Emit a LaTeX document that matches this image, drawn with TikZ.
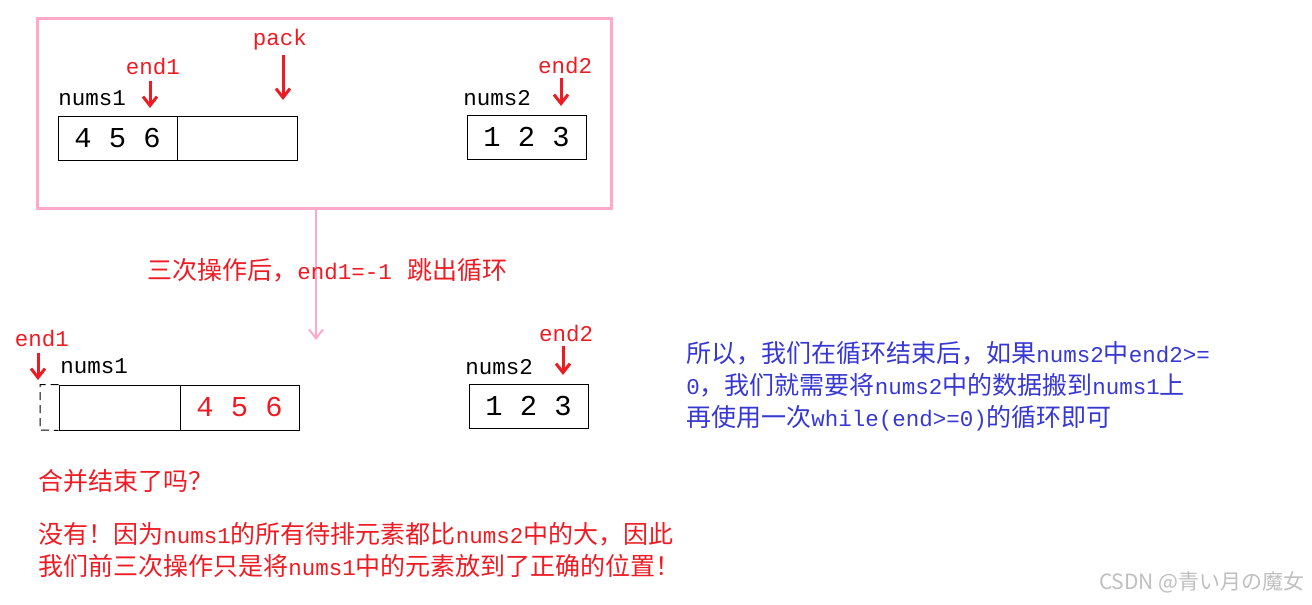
\documentclass[tikz,border=0pt]{standalone}
\usepackage{fontspec}
\usepackage{xcolor}
\setmainfont{Liberation Mono}[Scale=0.9]
\newfontfamily\cjk{Noto Sans CJK SC}
\usetikzlibrary{arrows.meta}
\definecolor{markred}{RGB}{237,28,36}
\definecolor{linkpink}{RGB}{255,168,201}
\definecolor{noteblue}{RGB}{55,55,210}
\tikzset{
  every node/.style={inner sep=0pt,font=\fontsize{12.5}{16}\selectfont},
  cell/.style={draw,line width=0.5pt,minimum height=22pt,font=\fontsize{16}{20}\selectfont},
  pointer/.style={markred,line width=1.5pt,->},
  redtext/.style={text=markred},
}
\begin{document}
\begin{tikzpicture}[x=0.5pt,y=-0.5pt,>={Straight Barb[length=4.5pt,width=7pt]}]
  \useasboundingbox (0,0) rectangle (1312,605);
  \node[draw=linkpink,line width=1.5pt,minimum width=287pt,minimum height=95pt] (before) at (324,113) {};
  \node[cell,minimum width=59.5pt] (a0) at (117.5,138.5) {4 5 6};
  \node[cell,minimum width=60pt] (a1) at (237,138.5) {};
  \node[cell,minimum width=59.5pt] (c0) at (526.5,137) {1 2 3};
  \node[anchor=west] (n1top) at (58,98) {nums1};
  \node[anchor=west] (n2top) at (463,98) {nums2};
  \node[redtext] (e1top) at (153,66) {end1};
  \node[redtext] (pack) at (280,40) {pack};
  \node[redtext] (e2top) at (565,65) {end2};
  \coordinate (p1) at (150,108);
  \coordinate (p2) at (283,100);
  \coordinate (p3) at (561,106);
  \draw[pointer] (e1top.south -| p1) ++(0,6) -- (p1);
  \draw[pointer] (pack.south -| p2) ++(0,4) -- (p2);
  \draw[pointer] (e2top.south -| p3) ++(0,4) -- (p3);

  \coordinate (down) at (316,340);
  \draw[linkpink,line width=1pt,->] (before.south -| down) -- (down);
  \node[redtext,anchor=west] (step) at (147,270) {{\cjk 三次操作后，}end1=-1\hspace{8pt}{\cjk 跳出循环}};

  \node[cell,minimum width=60.5pt,minimum height=22.5pt] (b0) at (119.5,407.5) {};
  \node[cell,minimum width=59.5pt,minimum height=22.5pt,text=markred] (b1) at (239.5,407.5) {4 5 6};
  \node[cell,minimum width=59.5pt] (d0) at (528.5,406) {1 2 3};
  \draw[dash pattern=on 4pt off 2.5pt,line width=0.5pt] (b0.north west) -| (40,430) -- (b0.south west);
  \node[anchor=west] (n1bot) at (60,366) {nums1};
  \node[anchor=west] (n2bot) at (465,367) {nums2};
  \node[redtext] (e1bot) at (42,338) {end1};
  \node[redtext] (e2bot) at (566,333) {end2};
  \coordinate (p4) at (38,380);
  \coordinate (p5) at (563,375);
  \draw[pointer] (e1bot.south -| p4) ++(0,6) -- (p4);
  \draw[pointer] (e2bot.south -| p5) ++(0,4) -- (p5);

  \node[text=noteblue,anchor=west,align=left] (note) at (686,386)
    {{\cjk 所以，我们在循环结束后，如果}nums2{\cjk 中}end2>=\\
     0{\cjk ，我们就需要将}nums2{\cjk 中的数据搬到}nums1{\cjk 上}\\
     {\cjk 再使用一次}while(end>=0){\cjk 的循环即可}};
  \node[redtext,anchor=west] (ask) at (38,481) {{\cjk 合并结束了吗？}};
  \node[redtext,anchor=west,align=left] (answer) at (38,550)
    {{\cjk 没有！因为}nums1{\cjk 的所有待排元素都比}nums2{\cjk 中的大，因此}\\
     {\cjk 我们前三次操作只是将}nums1{\cjk 中的元素放到了正确的位置！}};
  \node[anchor=east,text=black!25,font=\cjk\fontsize{10.5}{12}\selectfont] (mark) at (1305,582) {CSDN @青い月の魔女};
\end{tikzpicture}
\end{document}
